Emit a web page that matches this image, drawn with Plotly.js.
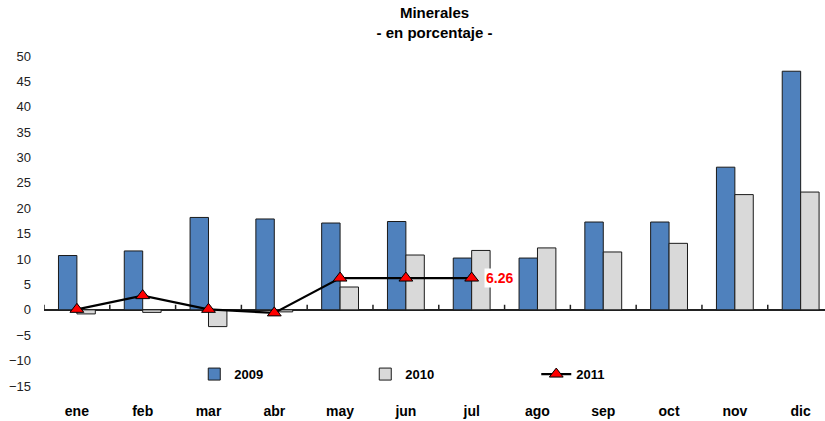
<!DOCTYPE html>
<html>
<head>
<meta charset="utf-8">
<script src="https://cdn.plot.ly/plotly-3.0.1.min.js"></script>
<style>html,body{margin:0;padding:0;background:#fff;}#chart{width:825px;height:421px;}</style>
</head>
<body>
<div id="chart"></div>
<script>
const months = ['ene','feb','mar','abr','may','jun','jul','ago','sep','oct','nov','dic'];
const v2009 = [10.7, 11.6, 18.2, 17.9, 17.1, 17.4, 10.2, 10.2, 17.3, 17.3, 28.1, 47.0];
const v2010 = [-0.8, -0.5, -3.3, -0.4, 4.5, 10.8, 11.7, 12.2, 11.4, 13.1, 22.7, 23.2];
const v2011 = [0.1, 2.8, 0.1, -0.6, 6.26, 6.26, 6.26];
const yRange = [-15, 50];
const xRange = [-0.5, 11.37];
const lastIdx = v2011.length - 1;

const font = 'Liberation Sans, Arial, sans-serif';

const traces = [
  {type:'bar', name:'2009', x:months, y:v2009,
   marker:{color:'#4F81BD', line:{color:'#1a1a1a', width:1}}},
  {type:'bar', name:'2010', x:months, y:v2010,
   marker:{color:'#D9D9D9', line:{color:'#1a1a1a', width:1}}},
  {type:'scatter', mode:'lines+markers', name:'2011', x:months.slice(0, v2011.length), y:v2011,
   line:{color:'#000', width:2.2},
   marker:{symbol:'triangle-up', size:12, color:'#FF0000', line:{color:'#000', width:1}}}
];

// category-boundary tick marks sitting on the zero line (axis decoration)
const tickHeight = 1; // in y units (about 5 px)
const boundaryTicks = months.map((m, i) => ({
  type:'line', xref:'x', yref:'y', x0:i - 0.5, x1:i - 0.5,
  y0:0, y1:tickHeight,
  line:{color:'#222', width:1.5}, layer:'above'
}));

const layout = {
  width:825, height:421,
  margin:{l:44, r:0, t:56, b:35},
  paper_bgcolor:'#fff', plot_bgcolor:'#fff',
  font:{family:font, color:'#111'},
  title:{text:'<b>Minerales</b><br><b>- en porcentaje -</b>', font:{size:15, family:font, color:'#000'},
         x:0.5, xref:'paper', y:0.957, yanchor:'top'},
  barmode:'group', bargap:0.44, bargroupgap:0,
  showlegend:true,
  legend:{orientation:'h', x:0.1924, y:0.036, xanchor:'left', yanchor:'middle',
          font:{size:13, family:font, color:'#000', weight:'bold'},
          entrywidth:126, entrywidthmode:'pixels', bgcolor:'rgba(0,0,0,0)', traceorder:'normal'},
  xaxis:{type:'category', range:xRange, autorange:false,
         showgrid:false, zeroline:false, showline:false, ticks:'',
         tickfont:{size:14, family:font, color:'#000', weight:'bold'},
         ticklabelstandoff:15},
  yaxis:{range:yRange, autorange:false, dtick:5, tick0:0, showgrid:false,
         zeroline:true, zerolinecolor:'#222', zerolinewidth:1.5, showline:false,
         ticks:'', tickfont:{size:13, family:font, color:'#222'}, ticklabelstandoff:12},
  shapes:boundaryTicks,
  annotations:[{x:months[lastIdx], y:v2011[lastIdx], xref:'x', yref:'y',
                text:'<b>'+v2011[lastIdx].toFixed(2)+'</b>', showarrow:false,
                xanchor:'left', xshift:12, font:{size:14, color:'#FF0000', family:font},
                bgcolor:'#fff'}]
};

Plotly.newPlot('chart', traces, layout, {staticPlot:true, displayModeBar:false});
</script>
</body>
</html>
